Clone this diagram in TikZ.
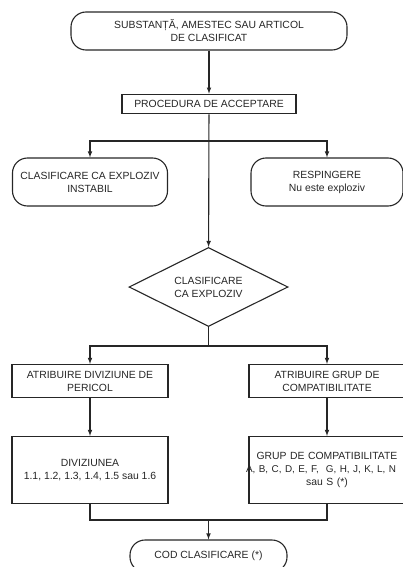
\documentclass[tikz,border=0pt]{standalone}
\usepackage{fontspec}
\setsansfont{Liberation Sans}
\usepackage{tikz}
\usetikzlibrary{arrows,shapes,shapes.geometric,positioning}
\definecolor{linegray}{gray}{0.15}
\definecolor{textgray}{gray}{0.15}
\tikzset{
  basic/.style  = {draw=linegray, line width=1.1pt, font=\sffamily\fontsize{10.4}{13}\selectfont,
                   text=textgray, align=center, inner sep=2pt},
  term/.style   = {basic, rectangle, rounded corners=15pt},
  proc/.style   = {basic, rectangle, line width=1.7pt},
  box/.style    = {basic, rectangle, minimum width=156pt},
  decision/.style = {basic, diamond, aspect=2, inner sep=0pt,
                   minimum width=159pt, minimum height=79pt}
}

\begin{document}
\begin{tikzpicture}[x=1pt, y=-1pt,
  line/.style={draw=linegray, line width=1.1pt},
  >=latex]
\useasboundingbox (0,0) rectangle (403,567);

% start, acceptance and its two outcomes
\node[term, minimum width=276pt, minimum height=38pt] (c0) at (209,31)
  {SUBSTANȚĂ, AMESTEC SAU ARTICOL\\DE CLASIFICAT};
\node[proc, minimum width=174pt, minimum height=19pt] (c1) at (209,104) {PROCEDURA DE ACCEPTARE};
\node[term, minimum width=155pt, minimum height=48pt] (c11) at (90,182) {CLASIFICARE CA EXPLOZIV\\INSTABIL};
\node[term, minimum width=152pt, minimum height=48pt] (c12) at (327,182) {RESPINGERE\\Nu este exploziv};

% decision and the two assignments
\node[decision] (c2) at (208.5,287) {CLASIFICARE\\CA EXPLOZIV};
\node[box, minimum height=33pt] (c21) at (90,381) {ATRIBUIRE DIVIZIUNE DE\\PERICOL};
\node[box, minimum height=33pt] (c22) at (327,381) {ATRIBUIRE GRUP DE\\COMPATIBILITATE};
\node[box, minimum height=67pt] (c211) at (90,470) {DIVIZIUNEA\\1.1, 1.2, 1.3, 1.4, 1.5 sau 1.6};
\node[box, minimum height=67pt, text width=150pt] (c221) at (327,470)
  {GRUP DE COMPATIBILITATE\\\makebox[\linewidth]{\hspace*{-12pt}\fontsize{9.9}{13}\selectfont A, B, C, D, E, F,\ \ G, H, J, K, L, N}\\sau S (*)};

% end
\node[term, minimum width=157pt, minimum height=32pt] (c3) at (208.5,556) {COD CLASIFICARE (*)};

% junctions
\coordinate (j1) at (209,141);
\coordinate (j2) at (208.5,346);
\coordinate (j3) at (208.5,520);

\draw[line,->] (c0) -- (c1);
\draw[line,->] (c1) -- (c2);
\draw[line,->] (j1) -| (c11);
\draw[line,->] (j1) -| (c12);
\draw[line] (c2.south) -- (j2);
\draw[line,->] (j2) -| (c21);
\draw[line,->] (j2) -| (c22);
\draw[line,->] (c21) -- (c211);
\draw[line,->] (c22) -- (c221);
\draw[line] (c211.south) |- (j3);
\draw[line] (c221.south) |- (j3);
\draw[line,->] (j3) -- (c3);
\end{tikzpicture}
\end{document}
